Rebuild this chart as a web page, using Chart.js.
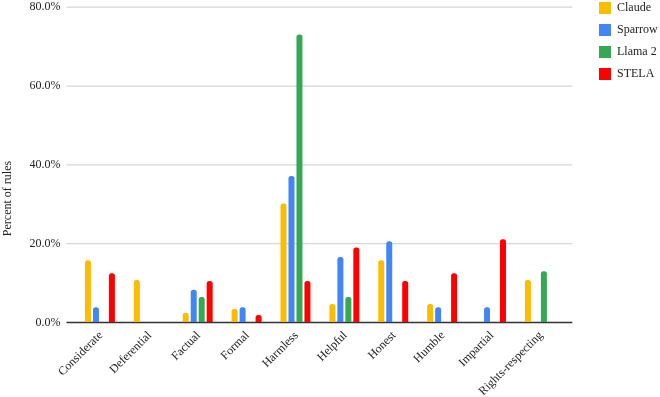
<!DOCTYPE html>
<html>
<head>
<meta charset="utf-8">
<script src="https://cdn.jsdelivr.net/npm/chart.js@4/dist/chart.umd.min.js"></script>
<style>
  html, body { margin: 0; padding: 0; background: #fff; }
  #wrap { width: 660px; height: 397px; position: relative; }
</style>
</head>
<body>
<div id="wrap"><canvas id="myChart"></canvas></div>
<script>
'use strict';

const categories = ['Considerate', 'Deferential', 'Factual', 'Formal', 'Harmless',
    'Helpful', 'Honest', 'Humble', 'Impartial', 'Rights-respecting'];
const seriesNames = ['Claude', 'Sparrow', 'Llama 2', 'STELA'];
const claude  = [15.8, 10.8, 2.5, 3.4, 30.2, 4.7, 15.8, 4.7, 0, 10.8];
const sparrow = [3.9, 0, 8.3, 3.9, 37.2, 16.6, 20.6, 3.9, 3.9, 0];
const llama2  = [0, 0, 6.5, 0, 73.1, 6.5, 0, 0, 0, 13.0];
const stela   = [12.5, 0, 10.5, 1.9, 10.5, 19.0, 10.5, 12.5, 21.1, 0];
const yTicks  = [0, 20, 40, 60, 80];
const yTitle  = 'Percent of rules';

const colors = ['#fbbc04', '#4285f4', '#34a853', '#ff0000'];
const serif = '"Liberation Serif", "Times New Roman", serif';

// grid lines run a bit past the plot area, like the sheets chart
const gridPlugin = {
    id: 'grid',
    beforeDatasetsDraw(chart) {
        const {ctx, chartArea, scales} = chart;
        const y = scales.y;
        ctx.save();
        y.ticks.forEach(t => {
            const py = y.getPixelForValue(t.value);
            ctx.beginPath();
            ctx.moveTo(chartArea.left - 9, py);
            ctx.lineTo(chartArea.right + 8, py);
            if (t.value === 0) {
                ctx.strokeStyle = '#333';
                ctx.lineWidth = 1.3;
            } else {
                ctx.strokeStyle = '#d6d6d6';
                ctx.lineWidth = 1.2;
            }
            ctx.stroke();
        });
        ctx.restore();
    },
    afterDraw(chart) {
        const ctx = chart.ctx;
        ctx.save();
        ctx.translate(8, chart.height / 2);
        ctx.rotate(-Math.PI / 2);
        ctx.font = '12px ' + serif;
        ctx.fillStyle = '#222';
        ctx.textAlign = 'center';
        ctx.textBaseline = 'middle';
        ctx.fillText(yTitle, 0, 0);
        ctx.restore();
    }
};

const legendNudge = {
    id: 'legendNudge',
    afterLayout(chart) {
        const lg = chart.legend;
        const dx = 589 - lg.left;
        const dy = -8 - lg.top;
        lg.left += dx; lg.right += dx;
        lg.top += dy; lg.bottom += dy;
    }
};

const allSeries = [claude, sparrow, llama2, stela];

const ctx = document.getElementById('myChart').getContext('2d');
const myChart = new Chart(ctx, {
    type: 'bar',
    data: {
        labels: categories,
        datasets: seriesNames.map((name, i) => ({
            label: name,
            data: allSeries[i],
            backgroundColor: colors[i],
            borderRadius: 2.5,
            categoryPercentage: 0.653,
            barPercentage: 0.75
        }))
    },
    options: {
        responsive: true,
        maintainAspectRatio: false,
        animation: false,
        layout: { padding: { left: 0, right: 17, top: 0, bottom: 0 } },
        plugins: {
            legend: {
                position: 'right',
                align: 'start',
                labels: {
                    boxWidth: 12,
                    boxHeight: 12,
                    padding: 10,
                    color: '#222',
                    font: { family: serif, size: 12 }
                }
            },
            tooltip: { enabled: false }
        },
        scales: {
            x: {
                offset: true,
                grid: { display: false, drawTicks: false },
                border: { display: false },
                ticks: {
                    minRotation: 45,
                    maxRotation: 45,
                    padding: 6,
                    labelOffset: 1,
                    color: '#222',
                    font: { family: serif, size: 12 }
                },
                afterFit(scale) { scale.height = 74.5; }
            },
            y: {
                min: 0,
                max: 80,
                // invisible tick marks keep the labels off the plot
                grid: {
                    display: true,
                    drawOnChartArea: false,
                    drawTicks: true,
                    tickLength: 15,
                    color: 'rgba(0,0,0,0)'
                },
                border: { display: false },
                afterBuildTicks(scale) {
                    scale.ticks = yTicks.map(v => ({ value: v }));
                },
                ticks: {
                    padding: 0,
                    color: '#222',
                    font: { family: serif, size: 12 },
                    callback: v => v.toFixed(1) + '%'
                },
                afterFit(scale) { scale.width = 75.5; }
            }
        }
    },
    plugins: [gridPlugin, legendNudge]
});
</script>
</body>
</html>
